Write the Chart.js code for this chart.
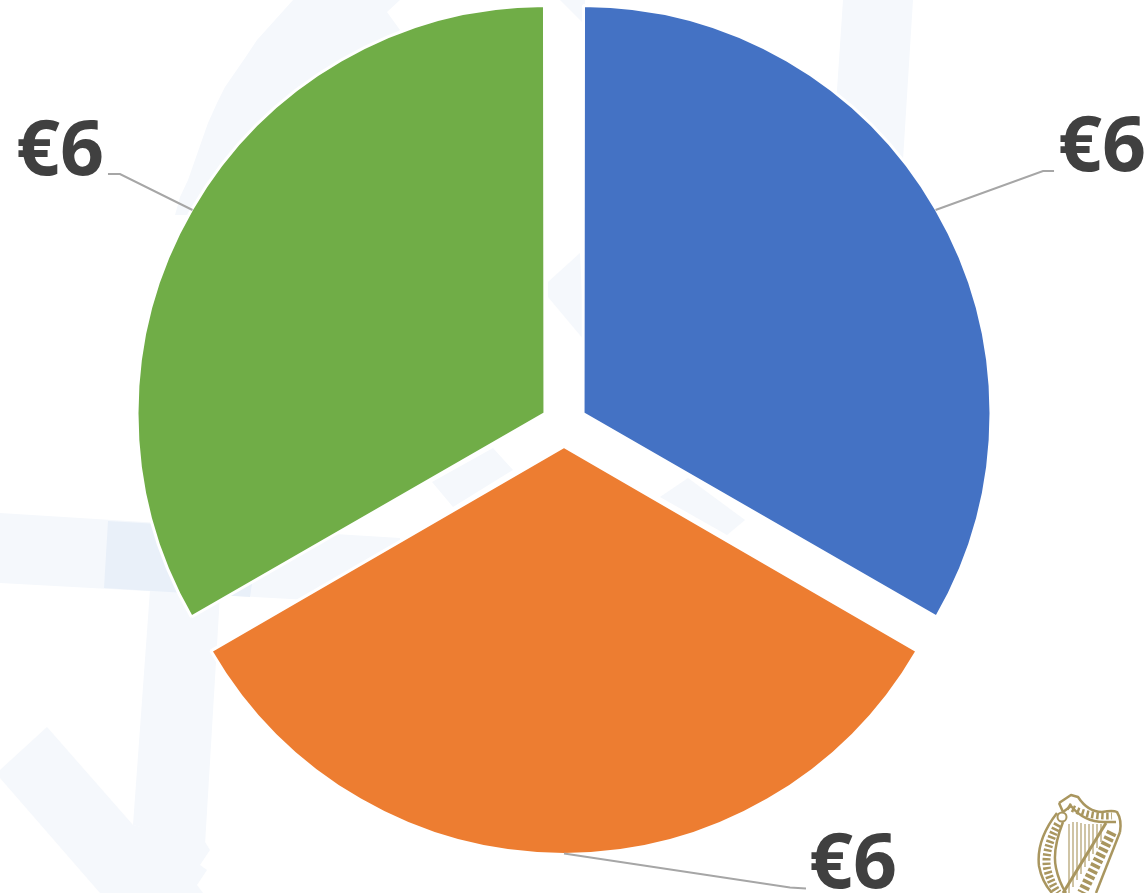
<!DOCTYPE html>
<html>
<head>
<meta charset="utf-8">
<title>Pie</title>
<script src="https://cdn.jsdelivr.net/npm/chart.js@4"></script>
<style>
  html, body { margin: 0; padding: 0; background: #fff; overflow: hidden; }
  #wrap { position: relative; width: 1147px; height: 893px; }
  #bg, #pie { position: absolute; left: 0; top: 0; }
</style>
</head>
<body>
<div id="wrap">
  <!-- pale watermark and harp crest behind the chart -->
  <svg id="bg" width="1147" height="893" viewBox="0 0 1147 893">
    <g fill="#f5f8fc">
      <polygon points="0,513 400,538 400,605 0,583"/>
      <polygon points="150,590 220,595 205,845 133,825"/>
      <polygon points="0,770 47,727 133,825 205,842 210,850 200,865 207,870 197,885 203,893 100,893 0,778"/>
      <polygon points="293,0 400,0 387,12 400,30 300,100 192,215 175,215 180,197 188,180 195,160 202,140 208,123 217,103 225,87 245,58 257,40"/>
      <polygon points="560,0 585,0 585,25"/>
      <polygon points="580,253 548,282 548,297 584,340"/>
      <polygon points="843,0 913,0 903,160 835,120"/>
      <polygon points="432,482 493,448 513,470 453,507"/>
      <polygon points="660,497 688,478 745,520 727,535"/>
    </g>
    <polygon points="108,521 260,530 250,597 104,588" fill="#e9f0f9"/>
    <g fill="none" stroke="#a9965f" stroke-linejoin="round">
      <path stroke-width="2.5" d="M1059,803 L1071,795 L1078,797 Q1088,812 1102,812 Q1113,810 1117,812 Q1122,820 1120,832"/>
      <path stroke-width="2.5" d="M1059,803 L1063,812 L1071,806 Q1084,822 1104,822 L1116,822"/>
      <path stroke-width="2.5" d="M1057,813 Q1036,840 1039,866 Q1042,882 1052,893"/>
      <path stroke-width="2.5" d="M1063,822 Q1052,850 1056,868 Q1059,882 1066,893"/>
      <path stroke-width="8" stroke-dasharray="2.5 2" d="M1058,824 Q1044,850 1047,868 Q1050,882 1058,893"/>
      <path stroke-width="3" d="M1106,823 L1063,893"/>
      <path stroke-width="2.5" d="M1120,832 L1096,893"/>
      <path stroke-width="10" stroke-dasharray="3.5 2.5" d="M1112,832 L1082,893"/>
      <circle cx="1062" cy="817" r="4.5" stroke-width="2"/>
      <path stroke-width="7" stroke-dasharray="2.5 2.5" d="M1068,806 Q1086,817 1112,816"/>
      <g stroke-width="1.5" stroke-opacity="0.75">
        <path d="M1069,824 V893"/><path d="M1073,822 V887"/><path d="M1077,822 V880"/>
        <path d="M1081,823 V874"/><path d="M1085,824 V867"/><path d="M1089,824 V861"/>
        <path d="M1093,824 V854"/><path d="M1097,824 V848"/><path d="M1101,824 V842"/>
      </g>
    </g>
  </svg>
  <canvas id="pie" width="1147" height="893"></canvas>
</div>
<script>
const categories = ['Slice 1', 'Slice 2', 'Slice 3']
const values = [6, 6, 6]
const valueLabels = ['€6', '€6', '€6']
const colours = ['#4472C4', '#ED7D31', '#70AD47']

// leader elbow / end relative to the slice edge, and where the label text goes
const leaders = [
  { elbow: [107.5, -39], end: [118.5, -39], textX: 1058, textY: 171 },
  { elbow: [226, 34], end: [242, 35], textX: 809, textY: 888 },
  { elbow: [-72.5, -36], end: [-84.5, -36], textX: 16, textY: 175 }
]

const labelPlugin = {
  id: 'labelPlugin',
  afterDatasetsDraw(chart) {
    const ctx = chart.ctx
    const arcs = chart.getDatasetMeta(0).data
    const shift = 22
    arcs.forEach((arc, i) => {
      const mid = (arc.startAngle + arc.endAngle) / 2
      const r = arc.outerRadius + shift + 2
      const sx = arc.x + Math.cos(mid) * r
      const sy = arc.y + Math.sin(mid) * r
      const l = leaders[i]
      ctx.save()
      ctx.strokeStyle = '#a6a6a6'
      ctx.lineWidth = 2
      ctx.beginPath()
      ctx.moveTo(sx, sy)
      ctx.lineTo(sx + l.elbow[0], sy + l.elbow[1])
      ctx.lineTo(sx + l.end[0], sy + l.end[1])
      ctx.stroke()
      ctx.fillStyle = '#404040'
      ctx.font = 'bold 77px "Open Sans"'
      ctx.textBaseline = 'alphabetic'
      ctx.fillText(valueLabels[i], l.textX, l.textY)
      ctx.restore()
    })
  }
}

new Chart(document.getElementById('pie'), {
  type: 'pie',
  data: {
    labels: categories,
    datasets: [{
      data: values,
      backgroundColor: colours,
      borderColor: '#ffffff',
      borderWidth: 3,
      offset: 88
    }]
  },
  options: {
    responsive: false,
    animation: false,
    radius: 405,
    layout: { padding: { left: 0, top: 0, right: 19, bottom: 44 } },
    plugins: {
      legend: { display: false },
      tooltip: { enabled: false }
    }
  },
  plugins: [labelPlugin]
})
</script>
</body>
</html>
